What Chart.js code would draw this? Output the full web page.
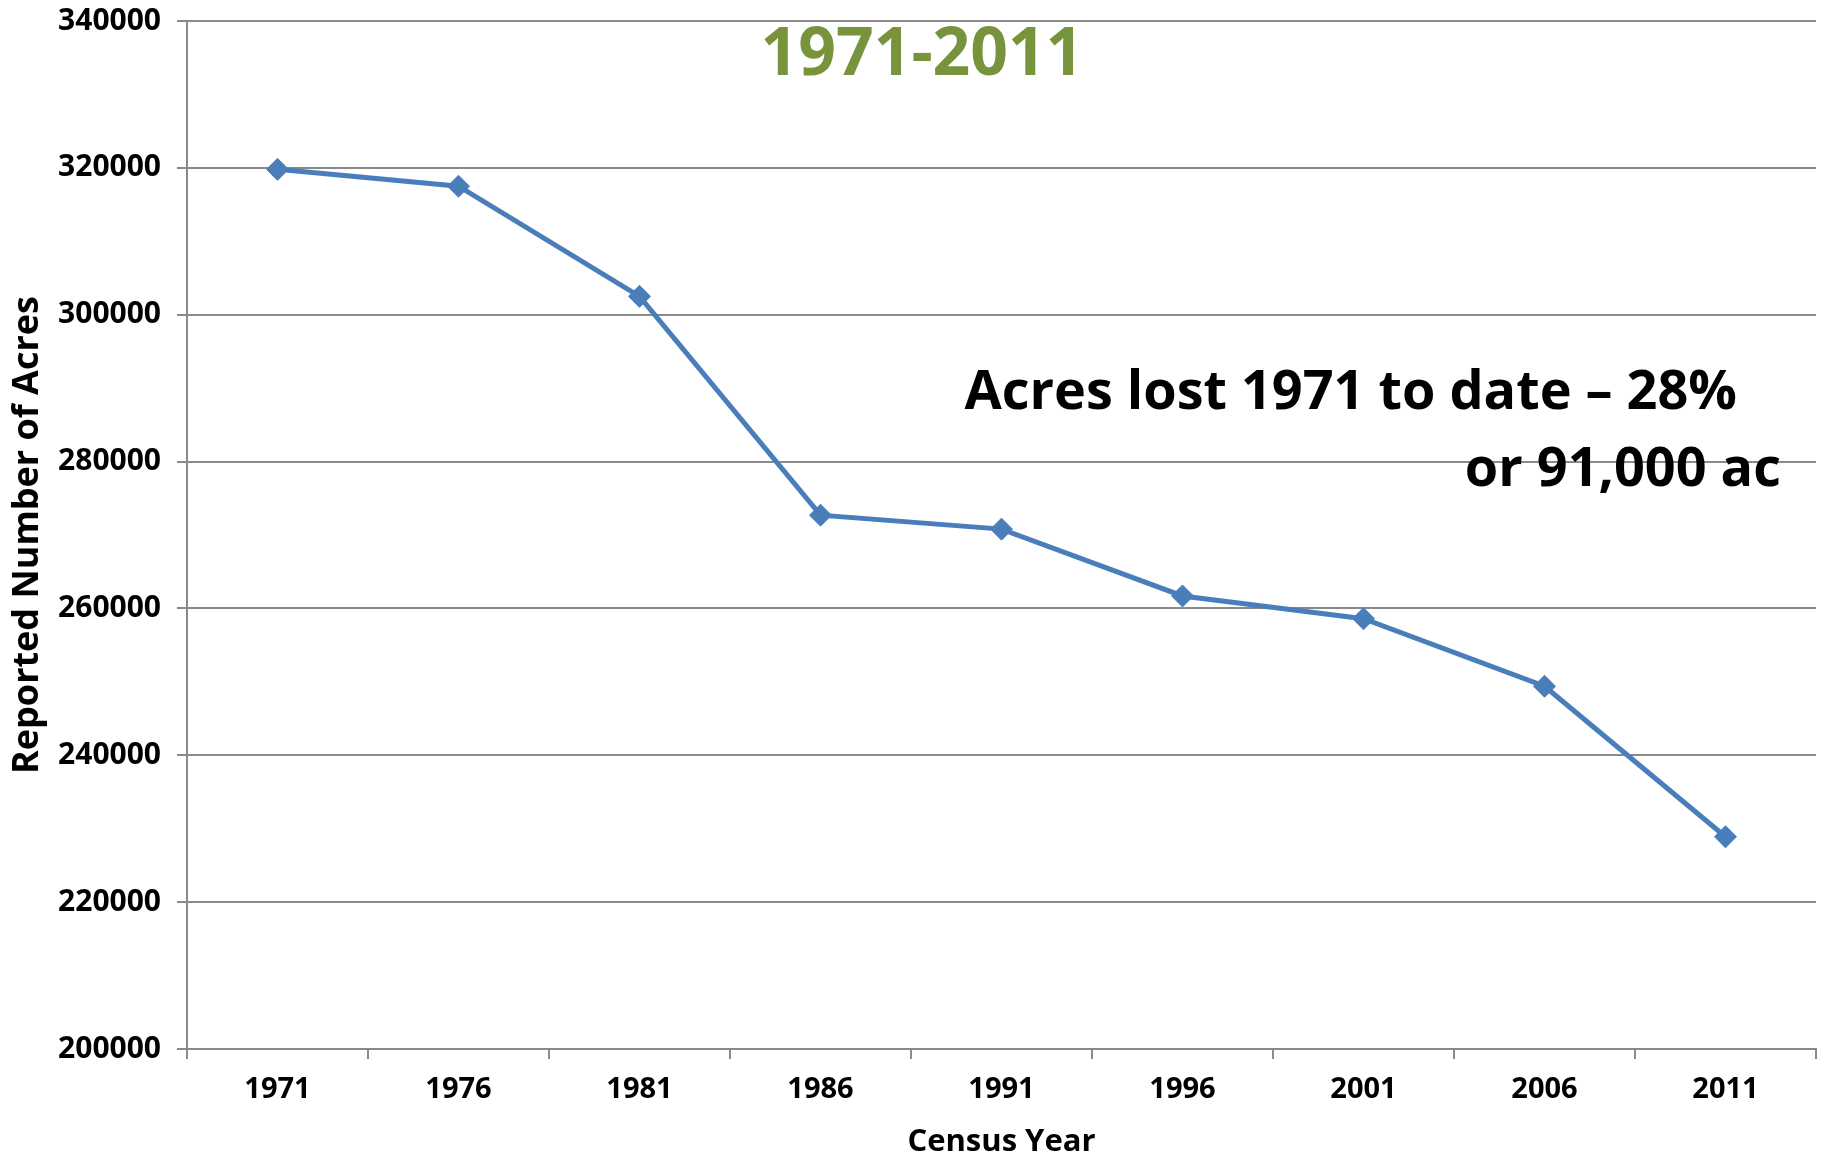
<!DOCTYPE html>
<html>
<head>
<meta charset="utf-8">
<script src="https://cdn.jsdelivr.net/npm/chart.js@4/dist/chart.umd.min.js"></script>
<style>
  html, body { margin: 0; padding: 0; background: #fff; }
  #wrap { width: 1828px; height: 1156px; }
</style>
</head>
<body>
<div id="wrap"><canvas id="myChart" width="1828" height="1156"></canvas></div>
<script>
"use strict";

const years = ["1971", "1976", "1981", "1986", "1991", "1996", "2001", "2006", "2011"];
const acres = [319800, 317500, 302500, 272700, 270800, 261700, 258600, 249400, 228900];
const yMin = 200000;
const yMax = 340000;
const yStep = 20000;

const lineColor = "#4a7ebb";
const gridColor = "#8a8a8a";
const fontFamily = "'Open Sans', 'Noto Sans', sans-serif";

// big title and the note on the right, drawn as text over the chart
const notesPlugin = {
  id: "notes",
  afterDraw(chart) {
    const ctx = chart.ctx;
    ctx.save();
    ctx.textBaseline = "middle";

    ctx.fillStyle = "#77933c";
    ctx.textAlign = "center";
    ctx.font = "bold 66px " + fontFamily;
    ctx.fillText("1971-2011", 922, 56);

    ctx.fillStyle = "#000";
    ctx.textAlign = "right";
    ctx.font = "bold 54px " + fontFamily;
    ctx.fillText("Acres lost 1971 to date \u2013 28%", 1737, 394);
    ctx.fillText("or 91,000 ac", 1781, 471);
    ctx.restore();
  },
};

const config = {
  type: "line",
  data: {
    labels: years,
    datasets: [
      {
        data: acres,
        borderColor: lineColor,
        backgroundColor: lineColor,
        borderWidth: 5,
        pointStyle: "rectRot",
        pointRadius: 11,
        pointBorderWidth: 1,
        pointBackgroundColor: lineColor,
        pointBorderColor: lineColor,
        tension: 0,
      },
    ],
  },
  options: {
    responsive: false,
    animation: false,
    layout: {
      padding: { top: 21, right: 3, bottom: 0, left: 0 },
    },
    plugins: {
      legend: { display: false },
      tooltip: { enabled: false },
    },
    scales: {
      x: {
        offset: true,
        grid: {
          offset: true,
          drawOnChartArea: false,
          drawTicks: true,
          tickLength: 10,
          color: gridColor,
          lineWidth: 2,
        },
        border: { display: true, color: gridColor, width: 2 },
        ticks: {
          color: "#000",
          padding: 13,
          font: { family: fontFamily, size: 29, weight: "bold" },
        },
        title: {
          display: true,
          text: "Census Year",
          color: "#000",
          padding: { top: 0, bottom: -5 },
          font: { family: fontFamily, size: 31, weight: "bold" },
        },
        afterFit: (scale) => {
          scale.height = 107;
          scale.paddingLeft = 0;
          scale.paddingRight = 0;
        },
      },
      y: {
        min: yMin,
        max: yMax,
        grid: {
          color: gridColor,
          lineWidth: 2,
          tickLength: 10,
        },
        border: { display: true, color: gridColor, width: 2 },
        ticks: {
          stepSize: yStep,
          color: "#000",
          padding: 16,
          font: { family: fontFamily, size: 30, weight: "bold" },
          callback: (value) => String(value),
        },
        title: {
          display: true,
          text: "Reported Number of Acres",
          color: "#000",
          padding: { top: 6, bottom: 0 },
          font: { family: fontFamily, size: 36, weight: "bold" },
        },
        afterFit: (scale) => {
          scale.width = 187;
          scale.paddingTop = 0;
          scale.paddingBottom = 0;
        },
      },
    },
  },
  plugins: [notesPlugin],
};

const myChart = new Chart(document.getElementById("myChart"), config);
</script>
</body>
</html>
